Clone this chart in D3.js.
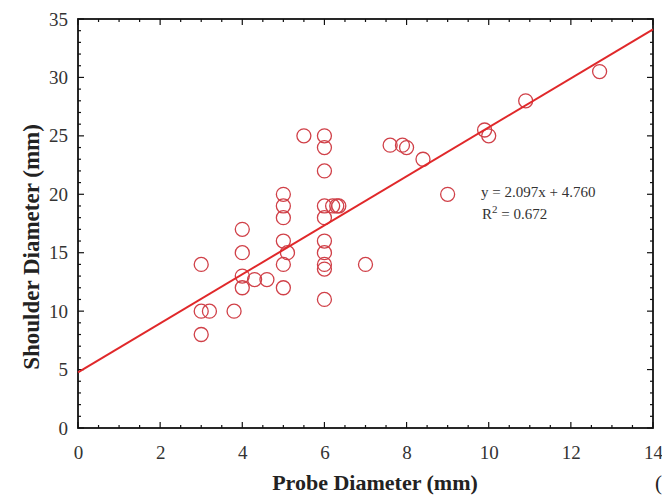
<!DOCTYPE html>
<html><head><meta charset="utf-8">
<script src="https://cdn.jsdelivr.net/npm/d3@7"></script>
<style>body{margin:0;background:#fff}svg{display:block}</style>
</head><body>
<script>
// Data
const probeDiameter = [3,3,3.2,3,3.8,4,4,4,4,4.3,4.6,5,5,5,5,5.1,5,5,5.5,6,6,6,6,6,6,6,6,6,6,6.2,6.3,6.35,7,7.6,7.9,8,8.4,9,9.9,10,10.9,12.7];
const shoulderDiameter = [14,10,10,8,10,17,15,13,12,12.7,12.7,20,19,18,16,15,14,12,25,25,24,22,19,18,16,15,14,13.6,11,19,19,19,14,24.2,24.2,24,23,20,25.5,25,28,30.5];
const fitSlope = 2.097, fitIntercept = 4.760;
const xTicks = [0,2,4,6,8,10,12,14];
const yTicks = [0,5,10,15,20,25,30,35];
const equationText = "y = 2.097x + 4.760";
const r2Text = "0.672";

const W = 662, H = 500;
const svg = d3.select("body").append("svg").attr("width", W).attr("height", H);
const L = 78, R = 653, T = 19, B = 428;
const x = d3.scaleLinear().domain([0,14]).range([L,R]);
const y = d3.scaleLinear().domain([0,35]).range([B,T]);
const serif = "'Liberation Serif','Times New Roman',serif";

// minor ticks
const xMinor = d3.range(0, 14.01, 0.5);
const yMinor = d3.range(0, 35.01, 1);
const g = svg.append("g").attr("stroke","#111").attr("stroke-width",1.2);
xMinor.forEach(v=>{
  const major = Math.abs(v/2 - Math.round(v/2))<1e-6;
  const len = major?6:3;
  g.append("line").attr("x1",x(v)).attr("x2",x(v)).attr("y1",B).attr("y2",B-len);
  g.append("line").attr("x1",x(v)).attr("x2",x(v)).attr("y1",T).attr("y2",T+len);
});
yMinor.forEach(v=>{
  const major = v%5===0;
  const len = major?6:3;
  g.append("line").attr("x1",L).attr("x2",L+len).attr("y1",y(v)).attr("y2",y(v));
  g.append("line").attr("x1",R).attr("x2",R-len).attr("y1",y(v)).attr("y2",y(v));
});

// axes labels via d3 axes (ticks hidden)
const xAxis = svg.append("g").attr("transform",`translate(0,${B})`)
  .call(d3.axisBottom(x).tickValues(xTicks).tickSize(0).tickPadding(18).tickFormat(d3.format("d")));
xAxis.select(".domain").remove();
xAxis.selectAll("text").attr("font-family",serif).attr("font-size",19).attr("fill","#333");
const yAxis = svg.append("g").attr("transform",`translate(${L},0)`)
  .call(d3.axisLeft(y).tickValues(yTicks).tickSize(0).tickPadding(10).tickFormat(d3.format("d")));
yAxis.select(".domain").remove();
yAxis.selectAll("text").attr("font-family",serif).attr("font-size",19).attr("fill","#333");

// frame
svg.append("rect").attr("x",L).attr("y",T).attr("width",R-L).attr("height",B-T)
  .attr("fill","none").attr("stroke","#111").attr("stroke-width",1.8);

// points
svg.append("g").selectAll("circle").data(probeDiameter.map((p,i)=>[p,shoulderDiameter[i]]))
  .join("circle").attr("cx",d=>x(d[0])).attr("cy",d=>y(d[1])).attr("r",7)
  .attr("fill","none").attr("stroke","#d04048").attr("stroke-width",1.3);

// fit line
svg.append("line").attr("x1",x(0)).attr("y1",y(fitIntercept)).attr("x2",x(14)).attr("y2",y(fitIntercept+fitSlope*14))
  .attr("stroke","#e0282a").attr("stroke-width",2);

// annotation
svg.append("text").attr("x",481).attr("y",197).attr("font-family",serif).attr("font-size",15).attr("fill","#333").text(equationText);
const r2 = svg.append("text").attr("x",482).attr("y",219).attr("font-family",serif).attr("font-size",15).attr("fill","#333");
r2.append("tspan").text("R");
r2.append("tspan").attr("dy",-6).attr("font-size",11).text("2");
r2.append("tspan").attr("dy",6).text(" = " + r2Text);

// titles
svg.append("text").attr("x",375).attr("y",490).attr("text-anchor","middle").attr("font-family",serif)
  .attr("font-weight","bold").attr("font-size",22).attr("fill","#222").text("Probe Diameter (mm)");
svg.append("text").attr("x",655).attr("y",490).attr("font-family",serif).attr("font-size",21).attr("fill","#222").text("(");
svg.append("text").attr("transform","translate(39,247) rotate(-90)").attr("text-anchor","middle").attr("font-family",serif)
  .attr("font-weight","bold").attr("font-size",23).attr("fill","#222").text("Shoulder Diameter (mm)");
</script>
</body></html>
